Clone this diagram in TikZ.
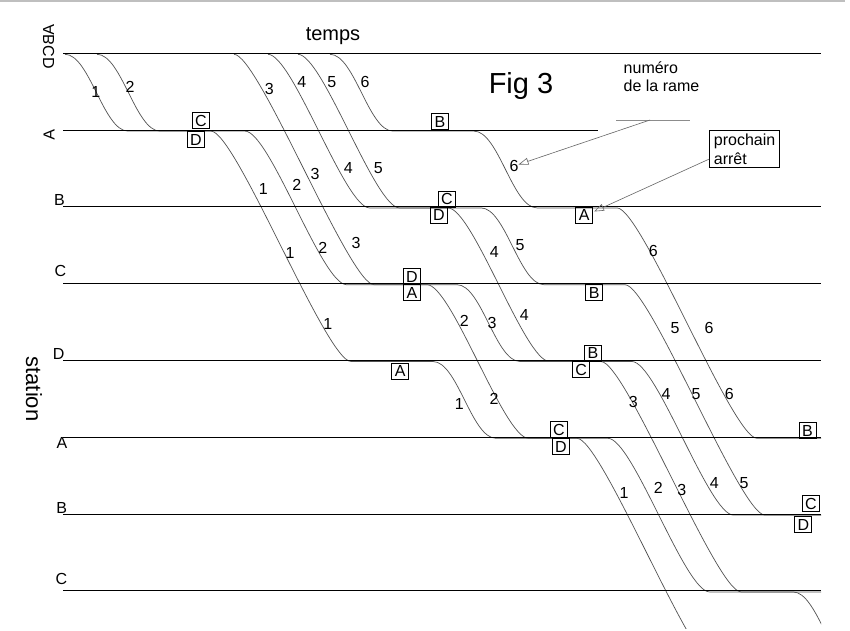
\documentclass[tikz,border=0pt]{standalone}
\usepackage{fontspec}
\setmainfont{Liberation Sans}
\usetikzlibrary{arrows.meta}
\begin{document}
\begin{tikzpicture}[x=1pt,y=-1pt,
  sta/.style={line width=1.1pt, draw=black},
  train/.style={line width=0.7pt, draw=black!68},
  num/.style={font=\fontsize{16}{19}\selectfont, inner sep=0pt},
  stopbox/.style={draw, line width=0.8pt, font=\fontsize{16}{19}\selectfont, minimum width=17pt, minimum height=16pt, inner sep=0pt},
  slab/.style={font=\fontsize{16}{19}\selectfont, inner sep=0pt},
  note/.style={draw=black!60, line width=0.6pt, -{Triangle[open,length=10pt,width=7pt]}},
]
\def\LO{53.3}\def\LA{130.1}\def\LB{206.9}\def\LC{283.7}\def\LD{360.5}
\def\LE{437.3}\def\LF{514.1}\def\LG{590.9}\def\LH{667.7}
\useasboundingbox (0,0) rectangle (850,630);
\fill[white] (0,0) rectangle (850,630);
\draw[black!25, line width=1.5pt] (0,1) -- (845,1);

% train paths
\begin{scope}
\clip (0,0) rectangle (821,628);
\begin{scope}[yshift=-1pt]
\draw[train] (65,\LO) .. controls (89.5,\LO) and (103.5,\LA) .. (128,\LA) -- (211,\LA)
  .. controls (235.5,\LA) and (326.5,\LD) .. (351,\LD) -- (433,\LD)
  .. controls (457.5,\LD) and (471.5,\LE) .. (496,\LE) -- (577,\LE)
  .. controls (601.5,\LE) and (692.5,\LH) .. (717,\LH);
\draw[train] (97,\LO) .. controls (121.5,\LO) and (135.5,\LA) .. (160,\LA) -- (245,\LA)
  .. controls (269.5,\LA) and (322,\LC) .. (346.5,\LC) -- (427,\LC)
  .. controls (451.5,\LC) and (504,\LE) .. (528.5,\LE) -- (608,\LE)
  .. controls (632.5,\LE) and (685,\LG) .. (709.5,\LG) -- (793,\LG)
  .. controls (817.5,\LG) and (831.5,\LH) .. (856,\LH);
\draw[train] (234,\LO) .. controls (258.5,\LO) and (349.5,\LC) .. (374,\LC) -- (457,\LC)
  .. controls (481.5,\LC) and (495.5,\LD) .. (520,\LD) -- (601,\LD)
  .. controls (625.5,\LD) and (716.5,\LG) .. (741,\LG) -- (821,\LG);
\draw[train] (268,\LO) .. controls (292.5,\LO) and (345,\LB) .. (369.5,\LB) -- (448,\LB)
  .. controls (472.5,\LB) and (525,\LD) .. (549.5,\LD) -- (632,\LD)
  .. controls (656.5,\LD) and (709,\LF) .. (733.5,\LF) -- (821,\LF);
\draw[train] (298,\LO) .. controls (322.5,\LO) and (375,\LB) .. (399.5,\LB) -- (481,\LB)
  .. controls (505.5,\LB) and (519.5,\LC) .. (544,\LC) -- (625,\LC)
  .. controls (649.5,\LC) and (740.5,\LF) .. (765,\LF) -- (821,\LF);
\draw[train] (330,\LO) .. controls (354.5,\LO) and (368.5,\LA) .. (393,\LA) -- (474,\LA)
  .. controls (498.5,\LA) and (512.5,\LB) .. (537,\LB) -- (617,\LB)
  .. controls (641.5,\LB) and (732.5,\LE) .. (757,\LE) -- (821,\LE);
\end{scope}
\end{scope}

% station lines
\draw[sta] (63,\LO) -- (821,\LO);
\draw[sta] (63,\LA) -- (598,\LA);
\draw[sta] (63,\LB) -- (821,\LB);
\draw[sta] (63,\LC) -- (821,\LC);
\draw[sta] (63,\LD) -- (821,\LD);
\draw[sta] (63,\LE) -- (821,\LE);
\draw[sta] (63,\LF) -- (821,\LF);
\draw[sta] (63,\LG) -- (821,\LG);

% station labels
\node[slab, cm={0,-1,-1,0,(0,0)}] (sABCD) at (48.5,46.5) {ABCD};
\node[slab, cm={0,-1,-1,0,(0,0)}] (sA1) at (49,135) {A};
\node[slab] (sB1) at (59.5,200) {B};
\node[slab] (sC1) at (60.3,271) {C};
\node[slab] (sD1) at (58.7,354) {D};
\node[slab] (sA2) at (62,443) {A};
\node[slab] (sB2) at (61.7,507.5) {B};
\node[slab] (sC2) at (61.3,579) {C};
\node[font=\fontsize{22}{25}\selectfont, inner sep=0pt, rotate=-90] (station) at (34,389) {station};

% titles
\node[font=\fontsize{20}{24}\selectfont, inner sep=0pt, anchor=base] (temps) at (333,40.5) {temps};
\node[font=\fontsize{29}{34}\selectfont, inner sep=0pt, anchor=base] (fig) at (521,93) {Fig 3};

% train numbers
\node[num] (a1) at (95.7,91.7) {1};
\node[num] (a2) at (130,87.3) {2};
\node[num] (a3) at (269.3,89.3) {3};
\node[num] (a4) at (301.7,81.7) {4};
\node[num] (a5) at (331.7,81.7) {5};
\node[num] (a6) at (365,81.7) {6};
\node[num] (b1) at (263.3,189.3) {1};
\node[num] (b2) at (296.7,185) {2};
\node[num] (b3) at (315,174) {3};
\node[num] (b4) at (348.3,168.3) {4};
\node[num] (b5) at (378.3,167.7) {5};
\node[num] (b6) at (514,166) {6};
\node[num] (c1) at (290,253.3) {1};
\node[num] (c2) at (322.7,247.7) {2};
\node[num] (c3) at (356,243.3) {3};
\node[num] (c4) at (494.3,251.7) {4};
\node[num] (c5) at (520,245) {5};
\node[num] (c6) at (653.3,250.7) {6};
\node[num] (d1) at (327.7,324) {1};
\node[num] (d2) at (464.3,320.5) {2};
\node[num] (d3) at (492,323) {3};
\node[num] (d4) at (524.3,315) {4};
\node[num] (d5) at (675,328.3) {5};
\node[num] (d6) at (709,328.3) {6};
\node[num] (e1) at (459.3,404) {1};
\node[num] (e2) at (494,399.3) {2};
\node[num] (e3) at (633.3,401.7) {3};
\node[num] (e4) at (666,394.3) {4};
\node[num] (e5) at (696,394.3) {5};
\node[num] (e6) at (729.3,394.3) {6};
\node[num] (f1) at (624,493.3) {1};
\node[num] (f2) at (658.3,488.3) {2};
\node[num] (f3) at (681.7,490) {3};
\node[num] (f4) at (714.3,483.3) {4};
\node[num] (f5) at (744,483.3) {5};

% next-stop boxes
\node[stopbox] (k1) at (201,120.5) {C};
\node[stopbox] (k2) at (196,139.5) {D};
\node[stopbox] (k3) at (440,121.7) {B};
\node[stopbox] (k4) at (447,199) {C};
\node[stopbox] (k5) at (439,215.3) {D};
\node[stopbox] (k6) at (584.3,215) {A};
\node[stopbox] (k7) at (412,276.7) {D};
\node[stopbox] (k8) at (412,292.8) {A};
\node[stopbox] (k9) at (594.3,292.5) {B};
\node[stopbox] (k10) at (400.3,371.2) {A};
\node[stopbox] (k11) at (593,353.3) {B};
\node[stopbox] (k12) at (581.2,369.7) {C};
\node[stopbox] (k13) at (559,429.5) {C};
\node[stopbox] (k14) at (560.8,446.7) {D};
\node[stopbox] (k15) at (807.5,430.5) {B};
\node[stopbox] (k16) at (811,503.8) {C};
\node[stopbox] (k17) at (803.3,524.7) {D};

% annotations
\node[font=\fontsize{16}{18.4}\selectfont, inner sep=0pt, anchor=base west, align=left] (num) at (623.5,91.7) {numéro\\de la rame};
\draw[black!45, line width=0.8pt] (616,120) -- (690,120);
\coordinate (numA) at (650,120);
\coordinate (numT) at (518.5,164.5);
\draw[note] (numA) -- (numT);
\node[draw, line width=0.8pt, font=\fontsize{16}{19}\selectfont, align=left, anchor=north west, inner xsep=4.2pt, inner ysep=3.3pt] (pa) at (709.3,130) {prochain\\arrêt};
\coordinate (paA) at (709.3,159);
\coordinate (paT) at (594,211.5);
\draw[note] (paA) -- (paT);
\end{tikzpicture}
\end{document}
